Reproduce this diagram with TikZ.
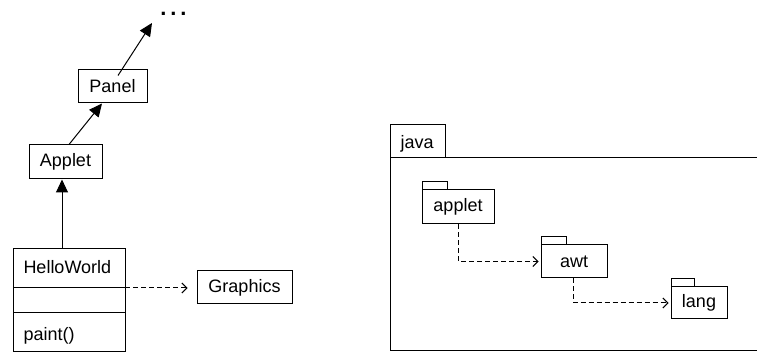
\documentclass[tikz,border=0pt]{standalone}
\usepackage{fontspec}
\setmainfont{Liberation Sans}
\usetikzlibrary{arrows.meta,calc}
\begin{document}
\begin{tikzpicture}[x=1pt,y=-1pt,
  line width=1pt,
  every node/.style={font=\fontsize{18}{20}\selectfont},
  box/.style={draw,rectangle,inner sep=0pt,minimum width=#1},
  inherit/.style={-{Triangle[length=13pt,width=12pt]}},
  depend/.style={dash pattern=on 5pt off 3pt,-{Straight Barb[length=5pt,width=10pt,line width=1pt]}},
  lbl/.style={anchor=base west,inner sep=0pt}]
\useasboundingbox (0,0) rectangle (757,352);

% class hierarchy
\node[box=69,minimum height=33] (panel) at (112.5,86.5) {Panel};
\node[box=73,minimum height=34] (applet) at (65.5,162) {Applet};
\node[box=112,minimum height=102] (hw) at (69,300) {};
\draw (13,288) -- (125,288);
\draw (13,313) -- (125,313);
\node[lbl] (hwname) at (23,274) {HelloWorld};
\node[lbl] (paint) at (23,341) {paint()};
\node[box=95,minimum height=33] (gfx) at (244.5,287.5) {Graphics};
\node[anchor=base,inner sep=0pt,font=\fontsize{22}{22}\bfseries] (more) at (173.5,16)
  {.\hspace{3.9pt}.\hspace{3.9pt}.};
\coordinate (up) at (152,23);

\draw[inherit] ([xshift=-7pt]hw.north) -- ([xshift=-3.5pt]applet.south);
\draw[inherit] ([xshift=3.5pt]applet.north) -- ([xshift=-10.5pt]panel.south);
\draw[inherit] ([xshift=5.5pt,yshift=-6pt]panel.north) -- (up);
\draw[depend,shorten >=9pt] (125,288) -- (gfx.west |- 0,288);

% package java
\draw (390,158) rectangle (445,125);
\node[lbl] (java) at (400,149) {java};
\draw (757,158) -- (390,158) -- (390,350) -- (757,350);

% nested packages
\node[box=72,minimum height=34] (pkapplet) at (458,207) {applet};
\draw (422,190) rectangle (447,182);
\node[box=66,minimum height=33] (pkawt) at (574,261.5) {awt};
\draw (541,245) rectangle (566,237);
\node[box=56,minimum height=32] (pklang) at (699,303) {lang};
\draw (671,287) rectangle (694,279);

\draw[depend,shorten >=2pt] (pkapplet.south) |- (pkawt.west);
\draw[depend,shorten >=2pt] ([xshift=-1pt]pkawt.south) |- (pklang.west);
\end{tikzpicture}
\end{document}
